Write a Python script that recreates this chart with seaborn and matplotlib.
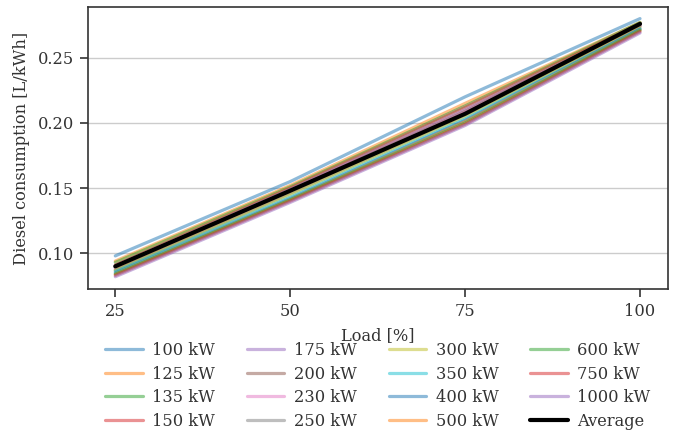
import matplotlib
matplotlib.use("Agg")
import matplotlib.pyplot as plt
import pandas as pd
import seaborn as sns

# load points [%]
loads = [25, 50, 75, 100]

# generator sizes, in legend order
sizes = ['100 kW', '125 kW', '135 kW', '150 kW', '175 kW', '200 kW', '230 kW', '250 kW',
         '300 kW', '350 kW', '400 kW', '500 kW', '600 kW', '750 kW', '1000 kW']

# diesel consumption [L/kWh] per size at each load
cons_100 = [0.098, 0.155, 0.220, 0.280]
cons_125 = [0.094, 0.152, 0.215, 0.277]
cons_135 = [0.093, 0.151, 0.213, 0.277]
cons_150 = [0.091, 0.150, 0.212, 0.276]
cons_175 = [0.090, 0.149, 0.210, 0.275]
cons_200 = [0.089, 0.148, 0.209, 0.275]
cons_230 = [0.088, 0.147, 0.208, 0.274]
cons_250 = [0.087, 0.146, 0.206, 0.274]
cons_300 = [0.087, 0.145, 0.205, 0.273]
cons_350 = [0.086, 0.143, 0.203, 0.272]
cons_400 = [0.085, 0.142, 0.202, 0.272]
cons_500 = [0.084, 0.141, 0.201, 0.271]
cons_600 = [0.084, 0.141, 0.200, 0.271]
cons_750 = [0.083, 0.140, 0.199, 0.270]
cons_1000 = [0.082, 0.139, 0.198, 0.269]
cons_avg = [0.090, 0.148, 0.207, 0.276]

all_cons = [cons_100, cons_125, cons_135, cons_150, cons_175, cons_200, cons_230, cons_250,
            cons_300, cons_350, cons_400, cons_500, cons_600, cons_750, cons_1000]

rows = []
for s, vals in zip(sizes, all_cons):
    for l, v in zip(loads, vals):
        rows.append({'load': l, 'cons': v, 'size': s})
df = pd.DataFrame(rows)
avg = pd.DataFrame({'load': loads, 'cons': cons_avg})

sns.set_style("ticks")
plt.rcParams['font.family'] = ['DejaVu Serif']
plt.rcParams['font.size'] = 11.7

fig = plt.figure(figsize=(6.74, 4.32), dpi=100)
ax = fig.add_axes([88 / 674, 1 - 289 / 432, 580 / 674, 282 / 432])

palette = sns.color_palette('tab10', 10)
palette = [palette[i % 10] for i in range(len(sizes))]
sns.lineplot(data=df, x='load', y='cons', hue='size', hue_order=sizes, palette=palette,
             alpha=0.5, linewidth=2.3, ax=ax)
sns.lineplot(data=avg, x='load', y='cons', color='black', linewidth=3,
             label='Average', ax=ax)

ax.set_xticks(loads)
ax.set_yticks([0.10, 0.15, 0.20, 0.25])
ax.set_xlim(21.1, 104)
ax.set_ylim(0.0726, 0.2889)
ax.yaxis.grid(True, color='#cccccc', linewidth=1)
ax.set_xlabel('Load [%]', labelpad=5)
ax.set_ylabel('Diesel consumption [L/kWh]', labelpad=6)
for sp in ax.spines.values():
    sp.set_color('#333333')
    sp.set_linewidth(1.2)
ax.tick_params(colors='#333333', length=6, width=1.2, pad=4)
ax.xaxis.label.set_color('#333333')
ax.yaxis.label.set_color('#333333')

leg = ax.legend(loc='upper center', bbox_to_anchor=(0.5, -0.165), ncol=4, frameon=False,
                handlelength=2.3, handletextpad=0.6, labelspacing=0.4, columnspacing=1.95,
                borderaxespad=0)
for t in leg.get_texts():
    t.set_color('#333333')

fig.savefig('out.png', dpi=100)
